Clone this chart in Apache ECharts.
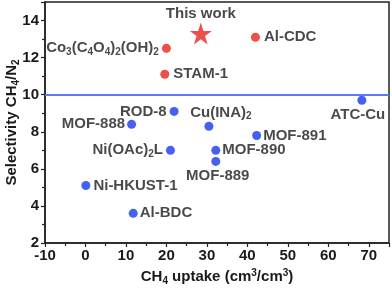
<!DOCTYPE html>
<html><head><meta charset="utf-8">
<script src="https://cdn.jsdelivr.net/npm/echarts@6/dist/echarts.min.js"></script>
<style>html,body{margin:0;padding:0;background:#fff}#c{width:392px;height:288px}</style>
</head><body><div id="c"></div>
<script>
// ---- data ----
const starName = ['This work'];
const starX = [28.5];
const starY = [13.3];

const redNames = ['Co3(C4O4)2(OH)2', 'STAM-1', 'Al-CDC'];
const redX = [20.0, 19.6, 42.0];
const redY = [12.5, 11.1, 13.1];

const blueNames = ['ROD-8', 'MOF-888', 'Ni(OAc)2L', 'Ni-HKUST-1', 'Al-BDC', 'Cu(INA)2', 'MOF-891', 'ATC-Cu', 'MOF-890', 'MOF-889'];
const blueX = [21.9, 11.4, 21.0, 0.1, 11.8, 30.5, 42.3, 68.3, 32.2, 32.2];
const blueY = [9.1, 8.4, 7.0, 5.1, 3.6, 8.3, 7.8, 9.7, 7.0, 6.4];

const refLineY = 10;
const xTicks = [-10, 0, 10, 20, 30, 40, 50, 60, 70];
const yTicks = [2, 4, 6, 8, 10, 12, 14];

// ---- label styling (presentation only) ----
const labelFmt = {
  'Co3(C4O4)2(OH)2': '{t|Co}{s|3}{t|(C}{s|4}{t|O}{s|4}{t|)}{s|2}{t|(OH)}{s|2}',
  'Ni(OAc)2L': '{t|Ni(OAc)}{s|2}{t|L}',
  'Cu(INA)2': '{t|Cu(INA)}{s|2}'
};
const labelPos = {
  'This work': {position: 'top', distance: 1},
  'Co3(C4O4)2(OH)2': {position: 'left', distance: 3},
  'STAM-1': {position: 'right', distance: 4},
  'Al-CDC': {position: 'right', distance: 4},
  'ROD-8': {position: 'left', distance: 3},
  'MOF-888': {position: 'left', distance: 2},
  'Ni(OAc)2L': {position: 'left', distance: 3},
  'Ni-HKUST-1': {position: 'right', distance: 3},
  'Al-BDC': {position: 'right', distance: 2},
  'Cu(INA)2': {position: 'top', distance: 0, offset: [12, 0]},
  'MOF-891': {position: 'right', distance: 2},
  'ATC-Cu': {position: 'bottom', distance: 3, offset: [-4, 0]},
  'MOF-890': {position: 'right', distance: 2},
  'MOF-889': {position: 'bottom', distance: 2, offset: [2, 0]}
};
const font = 'Liberation Sans, Arial, sans-serif';
const ink = '#1a1a1a';
const rich = {
  t: {fontSize: 15, fontWeight: 'bold', color: ink, fontFamily: font},
  s: {fontSize: 10, fontWeight: 'bold', color: ink, fontFamily: font, verticalAlign: 'bottom', padding: [8, 0, 0, 0]}
};
function mk(names, xs, ys) {
  return names.map((n, i) => {
    const lp = labelPos[n] || {position: 'right'};
    return {
      name: n, value: [xs[i], ys[i]],
      label: Object.assign({show: true, formatter: labelFmt[n] || ('{t|' + n + '}'), rich: rich}, lp)
    };
  });
}

const chart = echarts.init(document.getElementById('c'), null, {renderer: 'canvas'});
chart.setOption({
  animation: false,
  grid: {left: 45, right: 3, top: 2, bottom: 45, containLabel: false, outerBoundsMode: 'none',
    show: true, borderColor: '#222', borderWidth: 1.5, backgroundColor: 'transparent'},
  xAxis: {
    type: 'value', min: -10, max: 75, interval: 10,
    axisLine: {show: true, onZero: false, lineStyle: {color: '#222', width: 1.5}},
    axisTick: {show: true, inside: false, length: 4, lineStyle: {color: '#222', width: 1.2}},
    minorTick: {show: true, splitNumber: 2, length: 3, lineStyle: {color: '#222', width: 1.2}},
    splitLine: {show: false},
    axisLabel: {fontSize: 15, fontWeight: 'bold', color: ink, fontFamily: font, margin: 5,
      formatter: v => xTicks.includes(v) ? String(v) : ''},
    name: '{t|CH}{s|4}{t| uptake (cm}{p|3}{t|/cm}{p|3}{t|)}',
    nameLocation: 'middle', nameGap: 22,
    nameTextStyle: {rich: {
      t: {fontSize: 15, fontWeight: 'bold', color: ink, fontFamily: font},
      s: {fontSize: 10, fontWeight: 'bold', color: ink, fontFamily: font, verticalAlign: 'bottom', padding: [8, 0, 0, 0]},
      p: {fontSize: 10, fontWeight: 'bold', color: ink, fontFamily: font, verticalAlign: 'top', padding: [0, 0, 8, 0]}
    }}
  },
  yAxis: {
    type: 'value', min: 2, max: 15, interval: 2,
    axisLine: {show: true, onZero: false, lineStyle: {color: '#222', width: 1.5}},
    axisTick: {show: true, inside: false, length: 4, lineStyle: {color: '#222', width: 1.2}},
    minorTick: {show: true, splitNumber: 2, length: 3, lineStyle: {color: '#222', width: 1.2}},
    splitLine: {show: false},
    axisLabel: {fontSize: 15, fontWeight: 'bold', color: ink, fontFamily: font, margin: 6,
      formatter: v => yTicks.includes(v) ? String(v) : ''},
    name: '{t|Selectivity CH}{s|4}{t|/N}{s|2}',
    nameLocation: 'middle', nameGap: 24, nameRotate: 90, nameMoveOverlap: false,
    nameTextStyle: {rich: {
      t: {fontSize: 15, fontWeight: 'bold', color: ink, fontFamily: font},
      s: {fontSize: 10, fontWeight: 'bold', color: ink, fontFamily: font, verticalAlign: 'bottom', padding: [8, 0, 0, 0]}
    }}
  },
  series: [
    {
      type: 'scatter', symbol: 'circle', symbolSize: 9,
      itemStyle: {color: '#1638f0'},
      data: mk(blueNames, blueX, blueY),
      markLine: {
        silent: true, symbol: 'none', label: {show: false},
        lineStyle: {color: '#5b7bf2', width: 1.8, type: 'solid'},
        data: [{yAxis: refLineY}]
      },
      z: 3
    },
    {
      type: 'scatter', symbol: 'circle', symbolSize: 9,
      itemStyle: {color: '#e8231c'},
      data: mk(redNames, redX, redY), z: 3
    },
    {
      type: 'scatter', symbol: 'path://M50,0 L61.8,36.2 L100,36.2 L69.1,58.8 L80.9,95.1 L50,72.4 L19.1,95.1 L30.9,58.8 L0,36.2 L38.2,36.2 Z',
      symbolSize: 22,
      itemStyle: {color: '#e8231c'},
      data: mk(starName, starX, starY), z: 4
    }
  ]
});
</script>
</body></html>
